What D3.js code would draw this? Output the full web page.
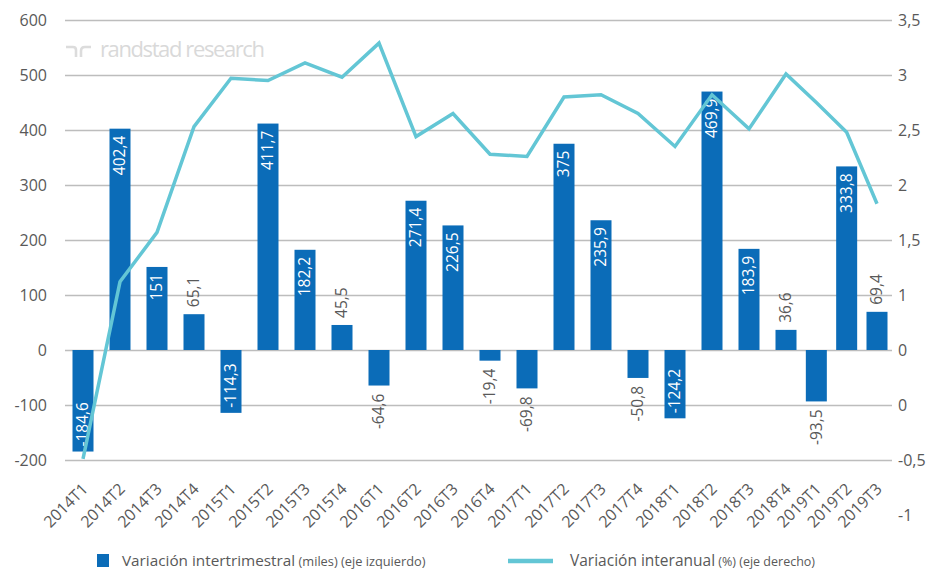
<!DOCTYPE html>
<html><head><meta charset="utf-8">
<script src="https://cdn.jsdelivr.net/npm/d3@7/dist/d3.min.js"></script>
<style>
body{margin:0;background:#fff}
svg{display:block}
text{font-family:"Open Sans",sans-serif}
</style>
</head><body>
<svg id="c" width="941" height="576"></svg>
<script>
const categories = ["2014T1","2014T2","2014T3","2014T4","2015T1","2015T2","2015T3","2015T4","2016T1","2016T2","2016T3","2016T4","2017T1","2017T2","2017T3","2017T4","2018T1","2018T2","2018T3","2018T4","2019T1","2019T2","2019T3"];
const quarterly = [-184.6,402.4,151,65.1,-114.3,411.7,182.2,45.5,-64.6,271.4,226.5,-19.4,-69.8,375,235.9,-50.8,-124.2,469.9,183.9,36.6,-93.5,333.8,69.4];
const annual = [-0.49,1.12,1.57,2.53,2.97,2.95,3.11,2.98,3.29,2.44,2.65,2.28,2.26,2.80,2.82,2.65,2.35,2.82,2.51,3.01,2.75,2.48,1.83];
const leftTicks = [600,500,400,300,200,100,0,-100,-200];
const rightTicks = [3.5,3,2.5,2,1.5,1,0.5,0,-0.5,-1];
const rightTickLabels = ["3,5","3","2,5","2","1,5","1","0","0","-0,5","-1"];
const legendItems = [
  {main:"Variación intertrimestral", sub:" (miles) (eje izquierdo)", type:"bar"},
  {main:"Variación interanual", sub:" (%) (eje derecho)", type:"line"}
];

const BLUE = "#0b6cb8", TEAL = "#63c6d5", GRID = "#bdbdbd", TXT = "#595959";
const svg = d3.select("#c");
const plotL = 65, plotR = 892;

// category position: index scale (the last quarters are narrower in the original layout)
const ix = d3.scaleLinear().domain([0, 19, 22]).range([83, 786, 877]);
const x = c => ix(categories.indexOf(c));
const yL = d3.scaleLinear().domain([-200, 600]).range([460, 20]);
const yR = d3.scaleLinear().domain([-1, 3.5]).range([515, 20]);
const barW = 21;
const fmt = v => String(v).replace(".", ",");

// gridlines
const grid = svg.append("g").attr("transform", `translate(${plotL},0)`)
  .call(d3.axisLeft(yL).tickValues(leftTicks).tickSize(-(plotR - plotL)).tickFormat(""));
grid.select(".domain").remove();
grid.selectAll("line").attr("stroke", GRID).attr("stroke-width", 1.3);

// left axis labels
const la = svg.append("g").attr("transform", `translate(47,0)`)
  .call(d3.axisLeft(yL).tickValues(leftTicks).tickSize(0).tickPadding(0).tickFormat(d => d));
la.select(".domain").remove();
la.selectAll("text").attr("fill", TXT).style("font-size", "16px").attr("dy", "0.35em");

// right axis labels
const ra = svg.append("g").attr("transform", `translate(898,0)`)
  .call(d3.axisRight(yR).tickValues(rightTicks).tickSize(0).tickPadding(0)
    .tickFormat((d, i) => rightTickLabels[i]));
ra.select(".domain").remove();
ra.selectAll("text").attr("fill", TXT).style("font-size", "16px").attr("dy", "0.35em");

// watermark
const wm = svg.append("g").attr("fill", "none").attr("stroke", "#dcdcdc").attr("stroke-width", 2.6);
wm.append("path").attr("d", "M66,47 H73 Q76,47 76,50 V57");
wm.append("path").attr("d", "M81,57 V51 Q81,47 85,47 H91");
svg.append("text").attr("x", 100).attr("y", 57).attr("fill", "#d9d9d9")
  .style("font-size", "22px").attr("textLength", 165).text("randstad research");

// bars
svg.append("g").selectAll("rect").data(categories).join("rect")
  .attr("x", c => x(c) - barW / 2)
  .attr("width", barW)
  .attr("y", (c, i) => yL(Math.max(0, quarterly[i])))
  .attr("height", (c, i) => Math.abs(yL(quarterly[i]) - yL(0)))
  .attr("fill", BLUE);

// bar labels
svg.append("g").selectAll("text").data(categories).join("text")
  .each(function (c, i) {
    const v = quarterly[i];
    const inside = Math.abs(v) > 100;
    const t = d3.select(this);
    let ypos, anchor;
    if (v >= 0) {
      if (inside) { ypos = yL(v) + 7; anchor = "end"; }
      else { ypos = yL(v) - 7; anchor = "start"; }
    } else {
      if (inside) { ypos = yL(v) - 5; anchor = "start"; }
      else { ypos = yL(v) + 8; anchor = "end"; }
    }
    t.attr("transform", `translate(${x(c)},${ypos}) rotate(-90)`)
      .attr("text-anchor", anchor).attr("dy", "0.35em")
      .attr("fill", inside ? "#ffffff" : TXT)
      .style("font-size", "15.5px")
      .text(fmt(v));
  });

// line
const line = d3.line().x((d, i) => x(categories[i])).y(d => yR(d));
svg.append("path").datum(annual).attr("d", line)
  .attr("fill", "none").attr("stroke", TEAL).attr("stroke-width", 3.5).attr("stroke-linejoin", "miter");

// x axis labels
svg.append("g").selectAll("text").data(categories).join("text")
  .attr("transform", c => `translate(${x(c) + 2},${486}) rotate(-45)`)
  .attr("text-anchor", "end").attr("dy", "0.35em")
  .attr("fill", TXT).style("font-size", "16px").text(c => c);

// legend
const lg = svg.append("g");
const l1 = lg.append("g").attr("transform", "translate(97,566)");
l1.append("rect").attr("x", 0).attr("y", -12).attr("width", 12).attr("height", 13).attr("fill", BLUE);
const t1 = l1.append("text").attr("x", 25).attr("y", 0).attr("fill", TXT).style("font-size", "15.3px");
t1.append("tspan").text(legendItems[0].main);
t1.append("tspan").style("font-size", "12.8px").text(legendItems[0].sub);
const l2 = lg.append("g").attr("transform", "translate(508,566)");
l2.append("line").attr("x1", 0).attr("x2", 45).attr("y1", -5).attr("y2", -5)
  .attr("stroke", TEAL).attr("stroke-width", 4.5);
const t2 = l2.append("text").attr("x", 62).attr("y", 0).attr("fill", TXT).style("font-size", "15.5px");
t2.append("tspan").text(legendItems[1].main);
t2.append("tspan").style("font-size", "12.5px").text(legendItems[1].sub);
</script>
</body></html>
